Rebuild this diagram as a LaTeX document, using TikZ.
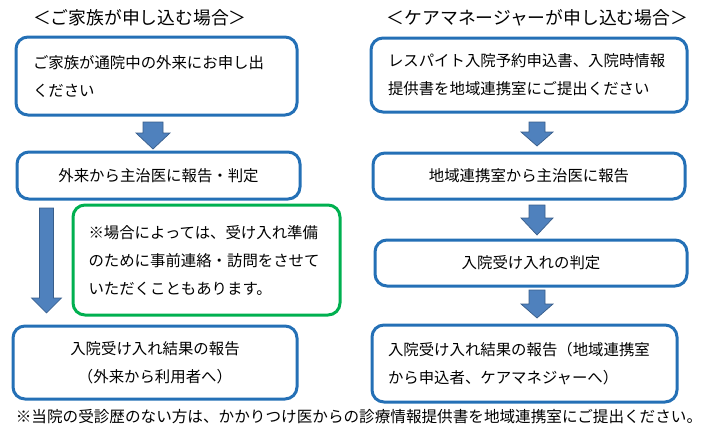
\documentclass[tikz,border=0pt]{standalone}
\usepackage{fontspec}
\setmainfont{Noto Sans CJK JP}
\definecolor{boxblue}{RGB}{36,112,182}
\definecolor{boxgreen}{RGB}{0,176,80}
\definecolor{arrfill}{RGB}{79,129,189}
\definecolor{arrdraw}{RGB}{56,93,138}
\tikzset{
  flowbox/.style={draw=boxblue, line width=3pt, rounded corners=12pt, fill=white,
    inner sep=0pt, font=\fontsize{15.4}{28}\selectfont},
  notebox/.style={flowbox, draw=boxgreen},
  titletext/.style={inner sep=0pt, font=\fontsize{17.8}{22}\selectfont},
  foottext/.style={inner sep=0pt, font=\fontsize{15.6}{20}\selectfont},
  blockarrow/.style={fill=arrfill, draw=arrdraw, line width=0.7pt, line join=miter}
}
% \blkarrow{cx}{top}{headstart}{tip}{half shaft}{half head}
\newcommand\blkarrow[6]{%
  \path[blockarrow] (#1-#5,#2) -- (#1+#5,#2) -- (#1+#5,#3) -- (#1+#6,#3) -- (#1,#4)
    -- (#1-#6,#3) -- (#1-#5,#3) -- cycle;}
\begin{document}
\begin{tikzpicture}[x=1pt,y=-1pt]
\useasboundingbox (0,0) rectangle (713,434);
% titles
\node[titletext] (tl) at (140,18) {＜ご家族が申し込む場合＞};
\node[titletext] (tr) at (537.5,18) {＜ケアマネージャーが申し込む場合＞};
% left column
\node[flowbox, minimum width=281pt, minimum height=78pt, text width=247pt, align=left]
  (l1) at (156.5,76) {ご家族が通院中の外来にお申し出\\ください};
\node[flowbox, minimum width=283pt, minimum height=47pt, align=center]
  (l2) at (158.5,175.5) {外来から主治医に報告・判定};
\node[notebox, minimum width=267pt, minimum height=110pt, text width=236pt, align=left]
  (n1) at (206.5,260) {※場合によっては、受け入れ準備\\のために事前連絡・訪問をさせて\\いただくこともあります。};
\node[flowbox, minimum width=284pt, minimum height=73pt, align=center]
  (l3) at (155,362.5) {入院受け入れ結果の報告\\（外来から利用者へ）};
% right column
\node[flowbox, minimum width=316pt, minimum height=74pt, text width=282pt, align=left]
  (r1) at (529,75) {レスパイト入院予約申込書、入院時情報\\提供書を地域連携室にご提出ください};
\node[flowbox, minimum width=312pt, minimum height=46pt, align=center]
  (r2) at (529,176) {地域連携室から主治医に報告};
\node[flowbox, minimum width=312pt, minimum height=46pt, align=center]
  (r3) at (531,263) {入院受け入れの判定};
\node[flowbox, minimum width=305pt, minimum height=77pt, text width=273pt, align=left]
  (r4) at (524.5,363.5) {入院受け入れ結果の報告（地域連携室\\から申込者、ケアマネジャーへ）};
% footer
\node[foottext] (ft) at (359,417) {※当院の受診歴のない方は、かかりつけ医からの診療情報提供書を地域連携室にご提出ください。};
% arrows
\blkarrow{153}{122}{133}{149}{10}{17}
\blkarrow{46.5}{208}{298}{313}{7}{15}
\blkarrow{537}{122}{132}{146}{8}{16}
\blkarrow{537}{205}{218}{235}{8}{16}
\blkarrow{537}{290}{304}{318}{8}{16}
\end{tikzpicture}
\end{document}
